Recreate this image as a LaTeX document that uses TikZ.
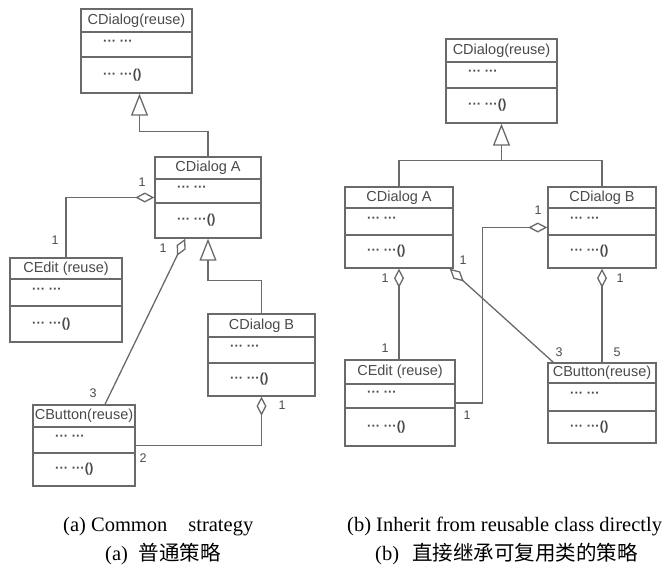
\documentclass[tikz,border=0pt]{standalone}
\usepackage{fontspec}
\setmainfont{Liberation Serif}
\newfontfamily\umlfont{Liberation Sans}
\newfontfamily\cjkfont{Noto Sans CJK SC}
\usetikzlibrary{arrows.meta}
\definecolor{umlgray}{HTML}{6A6A6A}
\definecolor{umltext}{HTML}{4A4A4A}
\tikzset{
 classbox/.style={draw=umlgray, line width=1.4pt, inner sep=0pt, fill=white},
 sepline/.style={draw=umlgray, line width=1.4pt},
 clstitle/.style={font=\umlfont\fontsize{14.5}{15}\selectfont, text=umltext, inner sep=0pt},
 member/.style={font=\umlfont\bfseries\fontsize{13}{14}\selectfont, text=umltext, inner sep=0pt, anchor=west},
 conn/.style={draw=umlgray, line width=1.3pt},
 inh/.style={conn, -{Triangle[open, length=22pt, width=17pt]}},
 aggr/.style={conn, {Diamond[open, length=19pt, width=10pt]}-},
 mult/.style={font=\umlfont\fontsize{12.5}{13}\selectfont, text=umltext, inner sep=0pt},
 captxt/.style={font=\fontsize{20.5}{24}\selectfont, inner sep=0pt, anchor=base west},
}
\newcommand\umlclass[8]{%
 \node[classbox, minimum width={#4-#2}, minimum height={#5-#3}] (#1) at ({(#2+#4)/2},{(#3+#5)/2}) {};
 \draw[sepline] (#2,#6) -- (#4,#6);
 \draw[sepline] (#2,#7) -- (#4,#7);
 \node[clstitle] (#1-t) at ({(#2+#4)/2},{(#3+#6)/2}) {#8};
 \node[member] (#1-a) at ({#2+22},{(#6+#7)/2-2}) {··· ···};
 \node[member] (#1-m) at ({#2+22},{(#7+#5)/2}) {··· ···()};
}
\begin{document}
\begin{tikzpicture}[x=1pt, y=-1pt]
\useasboundingbox (0,0) rectangle (664,567);
\fill[white] (0,0) rectangle (664,567);
% left diagram
\umlclass{A1}{81}{9}{192}{93}{32}{57}{CDialog(reuse)}
\umlclass{A2}{155}{157}{261}{238}{179}{203}{CDialog A}
\umlclass{A3}{10}{258}{122}{342}{279}{306}{CEdit (reuse)}
\umlclass{A4}{208}{314}{315}{396}{337}{363}{CDialog B}
\umlclass{A5}{33}{405}{135}{486}{427}{453}{CButton(reuse)}
\draw[inh] (A2.north) -- ++(0,-25) -| ([xshift=3pt]A1.south);
\draw[aggr] (A2.west) -| (A3.north);
\draw[aggr] ([xshift=31pt]A2.south west) -- ([xshift=21pt]A5.north);
\draw[inh] (A4.north) -- ++(0,-33) -| (A2.south);
\draw[aggr] (A4.south) |- (A5.east);
\node[mult] (la1) at (142,182) {1};
\node[mult] (la2) at (55,240) {1};
\node[mult] (la3) at (163,248) {1};
\node[mult] (la4) at (93,393) {3};
\node[mult] (la5) at (282,405) {1};
\node[mult] (la6) at (143,458) {2};
% right diagram
\umlclass{B1}{446}{39}{557}{123}{62}{88}{CDialog(reuse)}
\umlclass{B2}{345}{187}{453}{268}{208}{235}{CDialog A}
\umlclass{B3}{548}{187}{656}{268}{208}{235}{CDialog B}
\umlclass{B4}{345}{360}{455}{446}{384}{408}{CEdit (reuse)}
\umlclass{B5}{548}{363}{656}{443}{383}{411}{CButton(reuse)}
\coordinate (J) at ([yshift=-37pt]B1.south);
\draw[conn] (B2.north) |- (J) -| (B3.north);
\draw[inh] (J) -- (B1.south);
\draw[aggr] (B2.south) -- (B2.south |- B4.north);
\draw[aggr] ([xshift=-4pt]B2.south east) -- ([xshift=6pt]B5.north west);
\draw[aggr] (B3.west) -- ++(-65,0) |- (B4.east);
\draw[aggr] (B3.south) -- (B5.north);
\node[mult] (lb1) at (538,210) {1};
\node[mult] (lb2) at (467,415) {1};
\node[mult] (lb3) at (385,278) {1};
\node[mult] (lb4) at (385,348) {1};
\node[mult] (lb5) at (463,260) {1};
\node[mult] (lb6) at (559,352) {3};
\node[mult] (lb7) at (620,278) {1};
\node[mult] (lb8) at (617,352) {5};
% captions
\node[captxt] (ca1) at (63,531) {(a) Common\hspace{21pt}strategy};
\node[captxt] (ca2) at (105,560) {(a)\hspace{11pt}{\cjkfont 普通策略}};
\node[captxt] (cb1) at (347,531) {(b) Inherit from reusable class directly};
\node[captxt] (cb2) at (375,560) {(b)\hspace{13pt}{\cjkfont 直接继承可复用类的策略}};
\end{tikzpicture}
\end{document}
